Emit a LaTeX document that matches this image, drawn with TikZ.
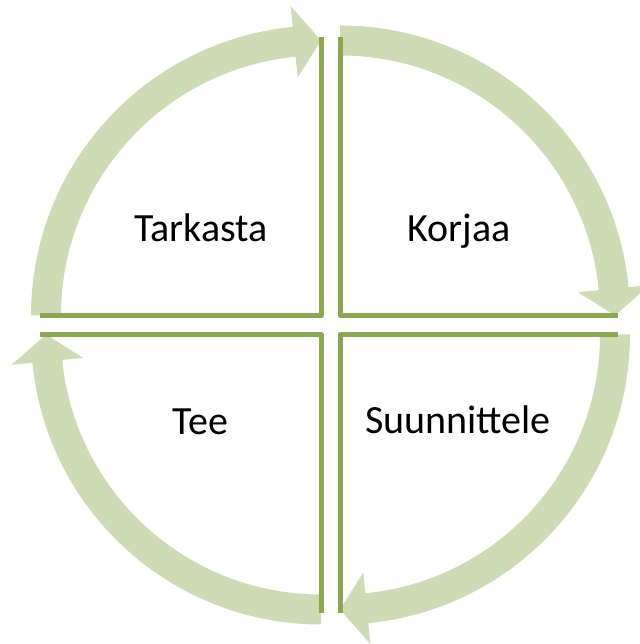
\documentclass[tikz,border=0pt]{standalone}
\usepackage{fontspec}
\setmainfont{Carlito}
\usepackage{xcolor}
\usepackage{tikz}
\usetikzlibrary{calc}
\definecolor{quadgreen}{HTML}{8BA84F}
\definecolor{arcgreen}{HTML}{CEDCB5}
\tikzset{
  quadline/.style={line width=5pt, quadgreen, line join=round},
  arcfill/.style={fill=arcgreen},
  lbl/.style={anchor=base, font=\fontsize{40}{46}\selectfont, text=black, inner sep=0pt},
}
% curved arrow round a corner: corner, start angle, end angle (clockwise)
\newcommand{\cycarrow}[3]{%
  \fill[arcfill, shift={(#1)}] (#2:290pt) arc[start angle=#2, end angle=#3+5.6, radius=290pt]
    -- ({#3+5.6}:311pt) -- (#3:275pt) -- ({#3+5.6}:239pt) -- ({#3+5.6}:260pt)
    arc[start angle=#3+5.6, end angle=#2, radius=260pt] -- cycle;}

\begin{document}
\begin{tikzpicture}[x=1pt, y=1pt]
\useasboundingbox (0,0) rectangle (639,644);
% inner corners of the four quarters
\coordinate (tl) at (321,328.5);
\coordinate (tr) at (340,328.5);
\coordinate (bl) at (321,309.5);
\coordinate (br) at (340,309.5);
% arrows
\cycarrow{tl}{180}{90}
\cycarrow{tr}{90}{0}
\cycarrow{br}{0}{-90}
\cycarrow{bl}{270}{180}
% quarter edges
\draw[quadline] (tl |- 0,607) -- (tl) -- (tl -| 40,0);
\draw[quadline] (tr |- 0,607) -- (tr) -- (tr -| 618,0);
\draw[quadline] (bl |- 0,31) -- (bl) -- (bl -| 40,0);
\draw[quadline] (br |- 0,31) -- (br) -- (br -| 618,0);
% labels
\node[lbl] (tarkasta) at (201,402) {Tarkasta};
\node[lbl] (korjaa) at (459,402) {Korjaa};
\node[lbl] (tee) at (200,209) {Tee};
\node[lbl] (suunnittele) at (458,210) {Suunnittele};
\end{tikzpicture}
\end{document}
